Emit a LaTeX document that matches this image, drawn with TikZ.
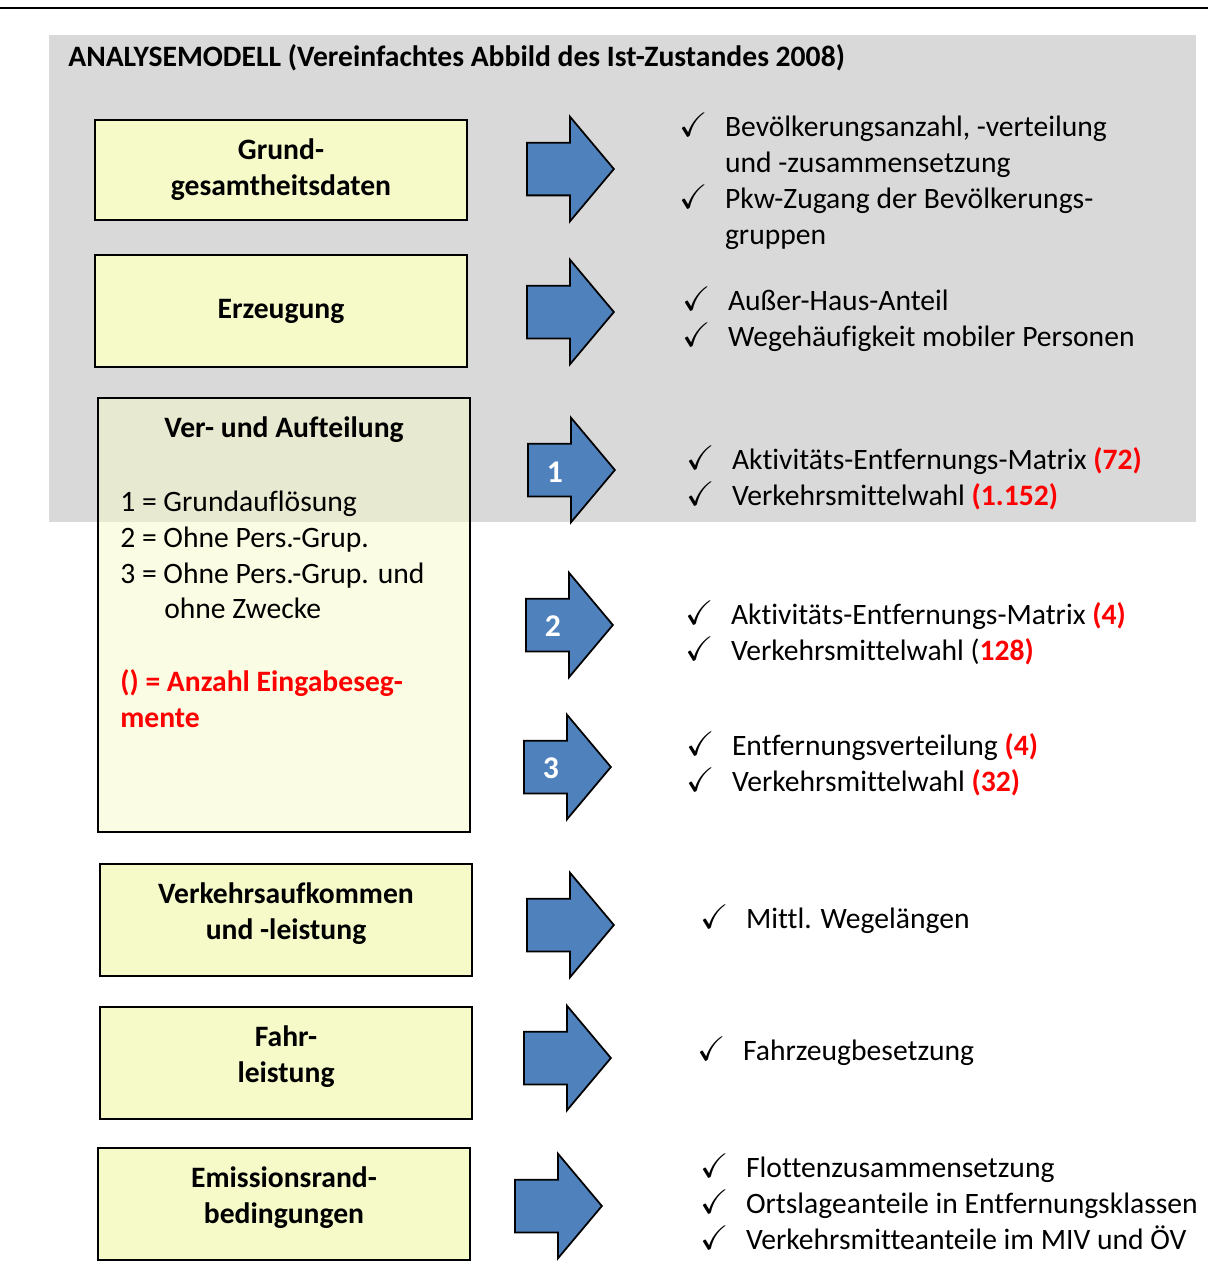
\documentclass[tikz,border=0pt]{standalone}
\usepackage{amssymb}
\usepackage{fontspec}
\setmainfont{Carlito}[RawFeature={-liga;-clig;-calt;-dlig}]
\usetikzlibrary{positioning}
\usetikzlibrary{shapes.arrows}
\definecolor{panelgray}{HTML}{D9D9D9}
\definecolor{boxyellow}{HTML}{F5FAC8}
\definecolor{arrowblue}{HTML}{4F81BD}
\definecolor{segred}{HTML}{FF0000}
\newcommand{\basefont}{\fontsize{16.85pt}{20.4pt}\selectfont}
\newcommand{\chk}{\makebox[26pt][l]{\scalebox{1.15}{$\checkmark$}}}
\newcommand{\nochk}{\hspace*{26pt}}
\newcommand{\seg}[1]{\textcolor{segred}{\bfseries #1}}

\begin{document}
\begin{tikzpicture}[
    x=0.02cm, y=-0.02cm,
    font=\basefont,
    stage/.style={rectangle, draw, line width=1.1pt, fill=boxyellow, align=center, font=\basefont\bfseries, minimum width=7.44cm, minimum height=2.24cm},
    bigarrow/.style={single arrow, draw, line width=1pt, fill=arrowblue, anchor=tail, inner xsep=0pt, inner ysep=0.51cm, minimum height=1.74cm, single arrow head extend=0.52cm, single arrow tip angle=100},
    arrnum/.style={text=white, font=\fontsize{18pt}{20pt}\selectfont\bfseries},
    checklist/.style={anchor=west, align=left, inner sep=0pt}
]
    \useasboundingbox (0,0) rectangle (1208,1268);

    % Top rule and grey panel
    \draw[line width=1.2pt] (0,8) -- (1208,8);
    \fill[panelgray] (49,35) rectangle (1196,522);
    \node[anchor=west, inner sep=0pt, font=\basefont\bfseries] (title) at (68,58) {ANALYSEMODELL (Vereinfachtes Abbild des Ist-Zustandes 2008)};

    % Model stages
    \node[stage, minimum height=2cm] (gg) at (281,170) {Grund-\\gesamtheitsdaten};
    \node[stage] (erz) at (281,311) {Erzeugung};
    \node[stage, fill opacity=0.5, minimum height=8.68cm] (vua) at (284,615) {};
    \node[stage] (vol) at (286,920) {Verkehrsaufkommen\\und -leistung\\[-10pt]};
    \node[stage] (fl) at (286,1063) {Fahr-\\leistung\\[-10pt]};
    \node[stage] (emi) at (284,1204) {Emissionsrand-\\bedingungen\\[-10pt]};

    % Inside Ver- und Aufteilung
    \node[font=\basefont\bfseries] (vuatitle) at (284,430) {Ver- und Aufteilung};
    \node[checklist] (levels) at (120,555) {1 = Grundauflösung\\2 = Ohne Pers.-Grup.\\3 = Ohne Pers.-Grup. und\\\hspace*{25pt}ohne Zwecke};
    \node[checklist, text=segred, font=\basefont\bfseries] (segnote) at (120,699) {() = Anzahl Eingabeseg-\\mente};

    % Block arrows
    \node[bigarrow] (a1) at (526,169) {};
    \node[bigarrow] (a2) at (526,312) {};
    \node[bigarrow] (a3) at (527,470) {};
    \node[bigarrow] (a4) at (525,625) {};
    \node[bigarrow] (a5) at (523,767) {};
    \node[bigarrow] (a6) at (526,925) {};
    \node[bigarrow] (a7) at (523,1058) {};
    \node[bigarrow] (a8) at (514,1206) {};
    \node[arrnum] (n1) at (555,472) {1};
    \node[arrnum] (n2) at (553,626) {2};
    \node[arrnum] (n3) at (551,768) {3};

    % Inputs per stage
    \node[checklist] (t1) at (679,181) {\chk Bevölkerungsanzahl, -verteilung\\\nochk und -zusammensetzung\\\chk Pkw-Zugang der Bevölkerungs-\\\nochk gruppen};
    \node[checklist] (t2) at (682,319) {\chk Außer-Haus-Anteil\\\chk Wegehäufigkeit mobiler Personen};
    \node[checklist] (t3) at (686,478) {\chk Aktivitäts-Entfernungs-Matrix \seg{(72)}\\\chk Verkehrsmittelwahl \seg{(1.152)}};
    \node[checklist] (t4) at (685,633) {\chk Aktivitäts-Entfernungs-Matrix \seg{(4)}\\\chk Verkehrsmittelwahl (\seg{128)}};
    \node[checklist] (t5) at (686,764) {\chk Entfernungsverteilung \seg{(4)}\\\chk Verkehrsmittelwahl \seg{(32)}};
    \node[checklist] (t6) at (700,919) {\chk Mittl. Wegelängen};
    \node[checklist] (t7) at (697,1051) {\chk Fahrzeugbesetzung};
    \node[checklist] (t8) at (700,1202) {\chk Flottenzusammensetzung\\\chk Ortslageanteile in Entfernungsklassen\\\chk Verkehrsmitteanteile im MIV und ÖV};
\end{tikzpicture}
\end{document}
